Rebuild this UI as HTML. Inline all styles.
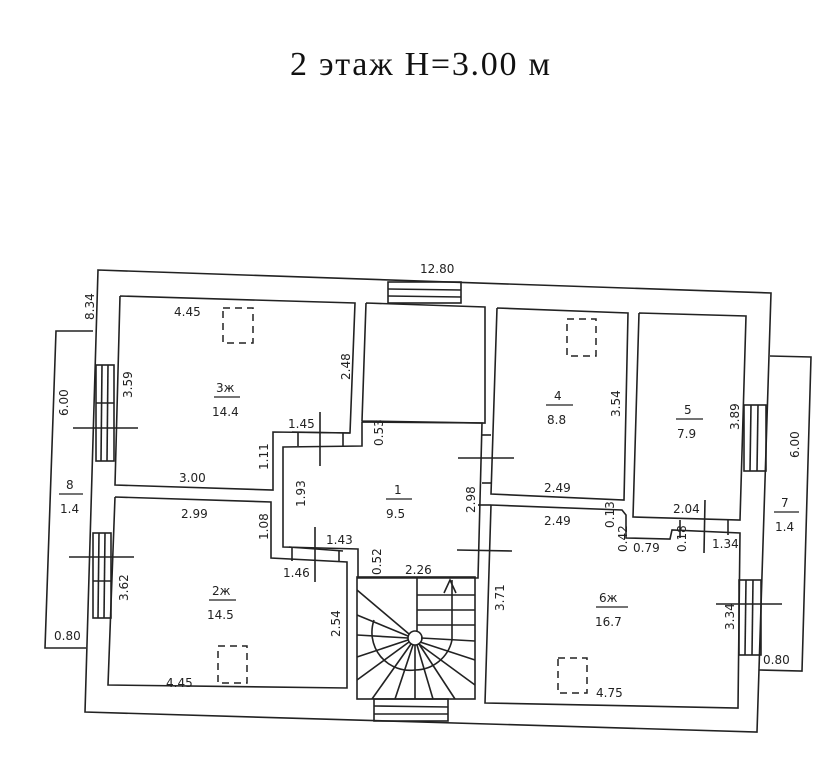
<!DOCTYPE html>
<html><head><meta charset="utf-8"><style>
html,body{margin:0;padding:0;background:#fff}
svg{display:block}
text{font-family:"DejaVu Sans","Liberation Sans",sans-serif;font-size:12px;fill:#222}
.t{font-family:"Liberation Serif",serif;font-size:34px;fill:#111}
.n{font-size:17px}
</style></head><body>
<svg width="826" height="768" viewBox="0 0 826 768" xmlns="http://www.w3.org/2000/svg">
<rect width="826" height="768" fill="#fff"/>
<text x="290" y="75" class="t" textLength="260" lengthAdjust="spacing">2 этаж  H=3.00 м</text>
<g fill="none" stroke="#222" stroke-width="1.6">
<polygon points="98,270 771,293 757,732 85,712"/>
<polyline points="93,331 56,331 45,648 86,648"/>
<polyline points="770,356 811,357 802,671 759,670"/>
<polyline points="120,296 355,303 350,433 273,432 273,490 115,485 120,296"/>
<polyline points="115,497 271,502 271,558 347,562 347,688 108,685 115,497"/>
<polyline points="362,422 482,423 478,578 358,578 358,549 283,547 283,447 362,446 362,422"/>
<polyline points="366,303 485,307 485,423 362,421 366,303"/>
<polyline points="497,308 628,313 624,500 491,494 497,308"/>
<polyline points="639,313 746,316 740,520 633,517 639,313"/>
<polyline points="491,505 622,510 626,515 626,538 670,539 672,530 740,533 738,708 485,703 491,505"/>
<rect x="357" y="577" width="118" height="122"/>
<rect x="374" y="699" width="74" height="22"/>
<line x1="374" y1="706" x2="448" y2="707"/><line x1="374" y1="714" x2="448" y2="714"/>
<line x1="417" y1="577" x2="417" y2="632"/>
<circle cx="415" cy="638" r="7"/>
<path d="M374,620 A38,38 0 0 0 415,670 A38,38 0 0 0 452,640"/>
<line x1="452" y1="640" x2="452" y2="580"/>
<polyline points="444,593 450,580 456,593"/>
<line x1="417" y1="595" x2="475" y2="595"/><line x1="417" y1="610" x2="475" y2="610"/>
<line x1="417" y1="625" x2="475" y2="625"/><line x1="421" y1="638" x2="475" y2="641"/>
<line x1="420" y1="642" x2="475" y2="660"/><line x1="419" y1="644" x2="475" y2="685"/>
<line x1="409" y1="634" x2="357" y2="590"/><line x1="408" y1="636" x2="357" y2="615"/>
<line x1="408" y1="638" x2="357" y2="635"/><line x1="408" y1="640" x2="357" y2="657"/>
<line x1="409" y1="642" x2="357" y2="680"/><line x1="411" y1="644" x2="372" y2="699"/>
<line x1="413" y1="645" x2="395" y2="699"/><line x1="415" y1="645" x2="415" y2="699"/>
<line x1="417" y1="645" x2="433" y2="699"/><line x1="419" y1="644" x2="455" y2="699"/>
<rect x="388" y="282" width="73" height="21"/>
<line x1="388" y1="289" x2="461" y2="290"/><line x1="388" y1="296" x2="461" y2="297"/>
<rect x="96" y="365" width="18" height="96"/>
<line x1="102" y1="365" x2="101" y2="461"/><line x1="108" y1="365" x2="107" y2="461"/>
<line x1="96" y1="403" x2="114" y2="403"/><line x1="73" y1="428" x2="138" y2="428"/>
<rect x="93" y="533" width="18" height="85"/>
<line x1="99" y1="533" x2="98" y2="618"/><line x1="105" y1="533" x2="104" y2="618"/>
<line x1="93" y1="581" x2="111" y2="581"/><line x1="69" y1="557" x2="134" y2="557"/>
<rect x="744" y="405" width="22" height="66"/>
<line x1="751" y1="405" x2="750" y2="471"/><line x1="758" y1="405" x2="757" y2="471"/>
<rect x="739" y="580" width="22" height="75"/>
<line x1="746" y1="580" x2="745" y2="655"/><line x1="753" y1="580" x2="752" y2="655"/>
<line x1="716" y1="604" x2="782" y2="604"/>
<line x1="292" y1="432" x2="350" y2="433"/><line x1="298" y1="432" x2="298" y2="446"/><line x1="343" y1="433" x2="343" y2="446"/>
<line x1="320" y1="412" x2="320" y2="466"/>
<line x1="289" y1="547" x2="343" y2="551"/><line x1="292" y1="547" x2="292" y2="561"/><line x1="339" y1="550" x2="339" y2="562"/>
<line x1="315" y1="527" x2="315" y2="582"/>
<line x1="458" y1="458" x2="514" y2="458"/><line x1="482" y1="435" x2="491" y2="435"/><line x1="482" y1="483" x2="491" y2="483"/>
<line x1="457" y1="550" x2="512" y2="551"/><line x1="478" y1="505" x2="491" y2="505"/>
<line x1="705" y1="500" x2="704" y2="553"/><line x1="680" y1="520" x2="680" y2="538"/><line x1="728" y1="520" x2="728" y2="535"/>
</g>
<g fill="none" stroke="#222" stroke-width="1.5" stroke-dasharray="7,5">
<rect x="223" y="308" width="30" height="35"/>
<rect x="218" y="646" width="29" height="37"/>
<rect x="567" y="319" width="29" height="37"/>
<rect x="558" y="658" width="29" height="35"/>
</g>
<g stroke="#222" stroke-width="1.2">
<line x1="214" y1="397" x2="240" y2="397"/><line x1="209" y1="600" x2="236" y2="600"/>
<line x1="386" y1="499" x2="412" y2="499"/><line x1="546" y1="405" x2="573" y2="405"/>
<line x1="676" y1="419" x2="703" y2="419"/><line x1="596" y1="607" x2="628" y2="607"/>
<line x1="59" y1="494" x2="83" y2="494"/><line x1="774" y1="512" x2="799" y2="512"/>
</g>
<g class="n">
<text x="216" y="392">3ж</text><text x="212" y="416">14.4</text>
<text x="212" y="595">2ж</text><text x="207" y="619">14.5</text>
<text x="394" y="494">1</text><text x="386" y="518">9.5</text>
<text x="554" y="400">4</text><text x="547" y="424">8.8</text>
<text x="684" y="414">5</text><text x="677" y="438">7.9</text>
<text x="599" y="602">6ж</text><text x="595" y="626">16.7</text>
<text x="66" y="489">8</text><text x="60" y="513">1.4</text>
<text x="781" y="507">7</text><text x="775" y="531">1.4</text>
</g>
<g>
<text x="420" y="273">12.80</text>
<text x="174" y="316">4.45</text>
<text x="179" y="482">3.00</text>
<text x="181" y="518">2.99</text>
<text x="166" y="687">4.45</text>
<text x="288" y="428">1.45</text>
<text x="326" y="544">1.43</text>
<text x="283" y="577">1.46</text>
<text x="405" y="574">2.26</text>
<text x="544" y="492">2.49</text>
<text x="544" y="525">2.49</text>
<text x="673" y="513">2.04</text>
<text x="633" y="552">0.79</text>
<text x="712" y="548">1.34</text>
<text x="596" y="697">4.75</text>
<text x="54" y="640">0.80</text>
<text x="763" y="664">0.80</text>
<text transform="translate(94,320) rotate(-90)">8.34</text>
<text transform="translate(68,416) rotate(-90)">6.00</text>
<text transform="translate(132,398) rotate(-90)">3.59</text>
<text transform="translate(350,380) rotate(-90)">2.48</text>
<text transform="translate(268,470) rotate(-90)">1.11</text>
<text transform="translate(305,507) rotate(-90)">1.93</text>
<text transform="translate(268,540) rotate(-90)">1.08</text>
<text transform="translate(128,601) rotate(-90)">3.62</text>
<text transform="translate(340,637) rotate(-90)">2.54</text>
<text transform="translate(383,446) rotate(-90)">0.53</text>
<text transform="translate(381,575) rotate(-90)">0.52</text>
<text transform="translate(475,513) rotate(-90)">2.98</text>
<text transform="translate(504,611) rotate(-90)">3.71</text>
<text transform="translate(620,417) rotate(-90)">3.54</text>
<text transform="translate(739,430) rotate(-90)">3.89</text>
<text transform="translate(799,458) rotate(-90)">6.00</text>
<text transform="translate(614,528) rotate(-90)">0.13</text>
<text transform="translate(627,552) rotate(-90)">0.42</text>
<text transform="translate(686,552) rotate(-90)">0.18</text>
<text transform="translate(734,630) rotate(-90)">3.34</text>
</g>
</svg>
</body></html>
